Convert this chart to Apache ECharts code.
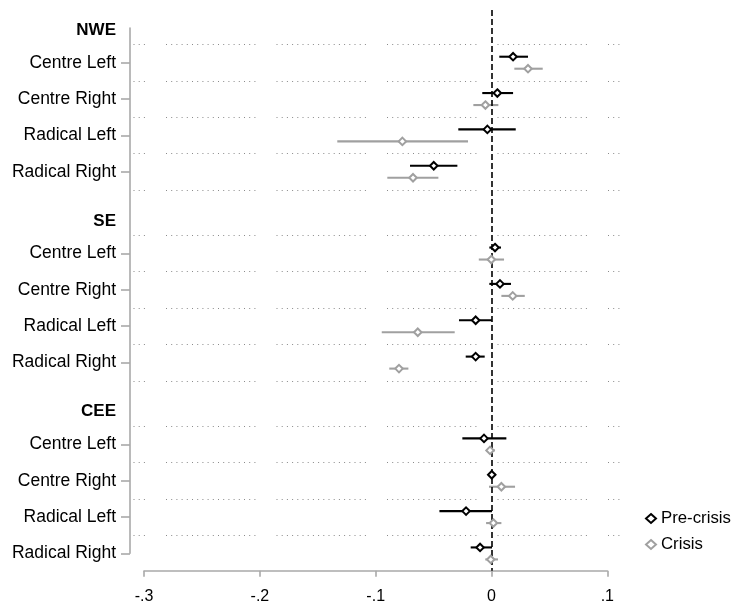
<!DOCTYPE html>
<html><head><meta charset="utf-8">
<script src="https://cdn.jsdelivr.net/npm/echarts@6/dist/echarts.min.js"></script>
<style>html,body{margin:0;padding:0;background:#fff}#c{width:732px;height:606px}</style>
</head><body><div id="c"></div>
<script>
// ---------- data ----------
const regions = ['NWE', 'SE', 'CEE'];
const parties = ['Centre Left', 'Centre Right', 'Radical Left', 'Radical Right'];
const seriesNames = ['Pre-crisis', 'Crisis'];
const xTicks = [-0.3, -0.2, -0.1, 0, 0.1];

// order: NWE (CL, CR, RL, RR), SE (...), CEE (...)
const preEst = [0.0186, 0.0050, -0.0036, -0.0499, 0.0030, 0.0073, -0.0137, -0.0137, -0.0065, 0.0002, -0.0220, -0.0099];
const preLo  = [0.0067, -0.0080, -0.0287, -0.0704, -0.0019, -0.0019, -0.0281, -0.0223, -0.0252, -0.0024, -0.0450, -0.0180];
const preHi  = [0.0315, 0.0186, 0.0209, -0.0295, 0.0082, 0.0168, 0.0002, -0.0059, 0.0128, 0.0036, 0.0004, 0.0004];
const crisisEst = [0.0315, -0.0053, -0.0770, -0.0678, -0.0002, 0.0183, -0.0637, -0.0799, -0.0013, 0.0085, 0.0016, -0.0007];
const crisisLo  = [0.0197, -0.0157, -0.1332, -0.0900, -0.0110, 0.0085, -0.0948, -0.0883, -0.0047, -0.0022, -0.0047, -0.0054];
const crisisHi  = [0.0442, 0.0059, -0.0203, -0.0459, 0.0108, 0.0287, -0.0318, -0.0718, 0.0030, 0.0203, 0.0085, 0.0056];

// ---------- layout helpers ----------
const GROUP_STEP = 5.25, HEADER_OFF = 0.1, SERIES_OFF = 0.165;
const nP = parties.length;
function rowPos(i) { return Math.floor(i / nP) * GROUP_STEP + (i % nP) + 1; }

const FONT = '"Liberation Sans", Arial, sans-serif';
const AXIS_COLOR = '#a9a9a9';
const BLACK = '#000000', GRAY = '#a0a0a0';

const labelMap = {};
const rowVals = [], labelVals = [], dotVals = [];
regions.forEach((r, g) => {
  const hv = g * GROUP_STEP + HEADER_OFF;
  labelVals.push(hv); labelMap[hv.toFixed(3)] = '{h|' + r + '}';
  parties.forEach((p, k) => {
    const v = rowPos(g * nP + k);
    rowVals.push(v); labelVals.push(v); labelMap[v.toFixed(3)] = p;
    dotVals.push(v - 0.5);
    if (k === nP - 1 && g !== regions.length - 1) dotVals.push(v + 0.5);
  });
});

function barData(lo, hi, off) { return lo.map((l, i) => [l, hi[i], rowPos(i) + off]); }
function ptData(est, off) { return est.map((e, i) => [e, rowPos(i) + off]); }

function renderBar(color) {
  return function (params, api) {
    const a = api.coord([api.value(0), api.value(2)]);
    const b = api.coord([api.value(1), api.value(2)]);
    return { type: 'line', shape: { x1: a[0], y1: a[1], x2: b[0], y2: b[1] },
             style: { stroke: color, lineWidth: 2.1 } };
  };
}

// dotted pattern with periodic breaks
const dotPattern = [];
for (let k = 0; k < 17; k++) dotPattern.push(1, 4.2);
dotPattern.push(1, 21.1);

const chart = echarts.init(document.getElementById('c'), null, { renderer: 'canvas' });
chart.setOption({
  animation: false,
  backgroundColor: '#fff',
  textStyle: { fontFamily: FONT },
  grid: [
    { left: 130, width: 491, top: 10, bottom: 35.3 },          // data
    { left: 130, width: 10, top: 28, height: 525.3 },          // y axis line
    { left: 144.1, right: 124.7, top: 10, bottom: 35.3 }       // x axis
  ],
  xAxis: [
    { gridIndex: 0, type: 'value', min: -0.3122, max: 0.1118, show: false },
    { gridIndex: 1, type: 'value', min: 0, max: 1, show: false },
    { gridIndex: 2, type: 'value', min: xTicks[0], max: xTicks[xTicks.length - 1], interval: 0.1,
      axisLine: { show: true, onZero: false, lineStyle: { color: AXIS_COLOR, width: 1.6 } },
      axisTick: { show: true, length: 6, lineStyle: { color: AXIS_COLOR, width: 1.6 } },
      splitLine: { show: false },
      axisLabel: { margin: 18, fontSize: 16, color: '#000', fontFamily: FONT,
        formatter: v => { const r = Math.round(v * 10) / 10; return r === 0 ? '0' : String(r).replace('0.', '.'); } } }
  ],
  yAxis: [
    { gridIndex: 0, type: 'value', inverse: true, min: -0.45, max: 14.975,
      position: 'left',
      axisLine: { show: true, onZero: false, lineStyle: { color: AXIS_COLOR, opacity: 0 } },
      splitLine: { show: false },
      axisTick: { show: true, customValues: rowVals, length: 9, lineStyle: { color: AXIS_COLOR, width: 1.6 } },
      axisLabel: { show: true, customValues: labelVals, margin: 14, fontSize: 17.5, color: '#000', fontFamily: FONT,
        formatter: v => labelMap[Number(v).toFixed(3)] || '',
        rich: { h: { fontWeight: 'bold', fontSize: 17, color: '#000', fontFamily: FONT } } } },
    { gridIndex: 1, type: 'value', min: 0, max: 1, position: 'left',
      axisLine: { show: true, onZero: false, lineStyle: { color: AXIS_COLOR, width: 1.6 } },
      axisTick: { show: false }, axisLabel: { show: false }, splitLine: { show: false } },
    { gridIndex: 2, type: 'value', show: false, min: 0, max: 1 }
  ],
  legend: {
    orient: 'vertical', left: 640, top: 505, itemGap: 9,
    itemWidth: 10, itemHeight: 9,
    data: [
      { name: seriesNames[0], icon: 'diamond', itemStyle: { color: '#fff', borderColor: BLACK, borderWidth: 2 } },
      { name: seriesNames[1], icon: 'diamond', itemStyle: { color: '#fff', borderColor: GRAY, borderWidth: 2 } }
    ],
    textStyle: { fontSize: 16.8, color: '#000', fontFamily: FONT }
  },
  series: [
    { type: 'scatter', name: '_grid', xAxisIndex: 0, yAxisIndex: 0, data: [], silent: true,
      markLine: { silent: true, symbol: 'none', label: { show: false },
        lineStyle: { color: '#8a8a8a', width: 1.2, type: dotPattern, dashOffset: 74.5 },
        data: dotVals.map(v => ({ yAxis: v })) } },
    { type: 'scatter', name: '_zero', xAxisIndex: 0, yAxisIndex: 0, data: [], silent: true, z: 3,
      markLine: { silent: true, symbol: 'none', label: { show: false },
        lineStyle: { color: '#000', width: 1.6, type: [6, 3] },
        data: [{ xAxis: 0 }] } },
    { type: 'custom', name: 'Pre-crisis CI', xAxisIndex: 0, yAxisIndex: 0, z: 4,
      itemStyle: { color: BLACK },
      renderItem: renderBar(BLACK), encode: { x: [0, 1], y: 2 }, data: barData(preLo, preHi, -SERIES_OFF) },
    { type: 'custom', name: 'Crisis CI', xAxisIndex: 0, yAxisIndex: 0, z: 4,
      itemStyle: { color: GRAY },
      renderItem: renderBar(GRAY), encode: { x: [0, 1], y: 2 }, data: barData(crisisLo, crisisHi, SERIES_OFF) },
    { type: 'scatter', name: seriesNames[0], xAxisIndex: 0, yAxisIndex: 0, z: 5,
      symbol: 'diamond', symbolSize: 7.5, data: ptData(preEst, -SERIES_OFF),
      itemStyle: { color: '#fff', borderColor: BLACK, borderWidth: 2, opacity: 1 } },
    { type: 'scatter', name: seriesNames[1], xAxisIndex: 0, yAxisIndex: 0, z: 5,
      symbol: 'diamond', symbolSize: 7.5, data: ptData(crisisEst, SERIES_OFF),
      itemStyle: { color: '#fff', borderColor: GRAY, borderWidth: 2, opacity: 1 } }
  ]
});
</script>
</body></html>
